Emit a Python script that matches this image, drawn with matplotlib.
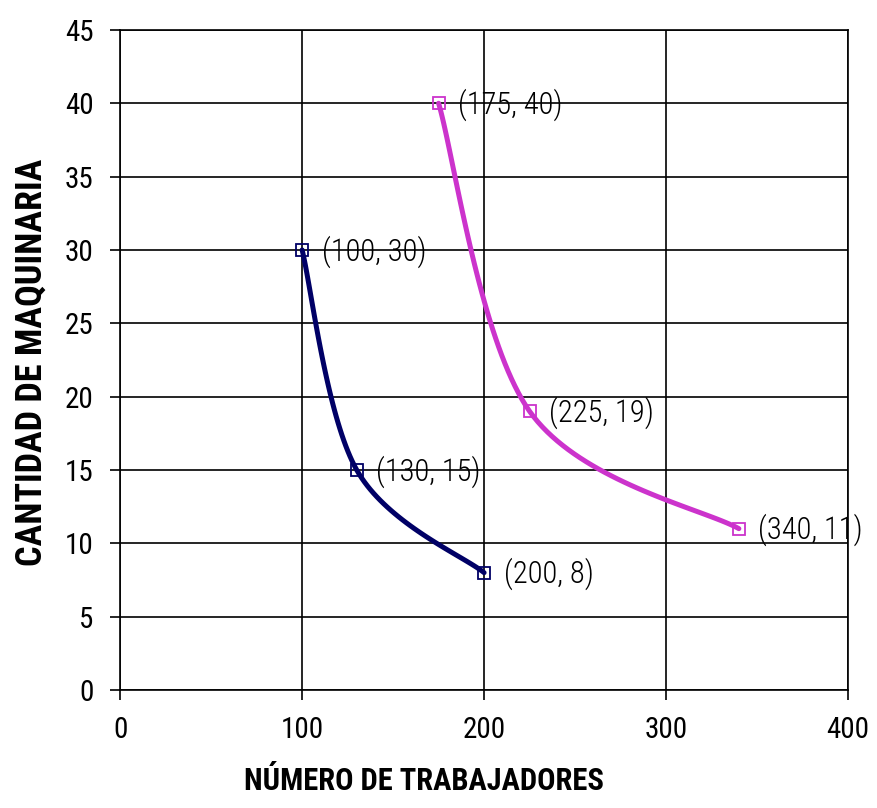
import numpy as np
import matplotlib
matplotlib.use("Agg")
import matplotlib.pyplot as plt

plt.rcParams['font.family'] = ['Liberation Sans Narrow', 'Arial Narrow', 'Roboto Condensed',
                               'DejaVu Sans Condensed', 'Liberation Sans', 'DejaVu Sans']

# data
x_a = [100, 130, 200]
y_a = [30, 15, 8]
x_b = [175, 225, 340]
y_b = [40, 19, 11]
x_ticks = [0, 100, 200, 300, 400]
y_ticks = [0, 5, 10, 15, 20, 25, 30, 35, 40, 45]


def smooth(xs, ys, sx, sy, n=40):
    # excel-like bezier smoothing, done in screen-ish units
    p = np.column_stack([np.array(xs) * sx, np.array(ys) * sy]).astype(float)
    p = np.vstack([p[0], p, p[-1]])
    out = []
    t = np.linspace(0, 1, n)[:, None]
    for i in range(1, len(p) - 2):
        p0, p1, p2, p3 = p[i - 1], p[i], p[i + 1], p[i + 2]
        c1 = p1 + (p2 - p0) / 6
        c2 = p2 - (p3 - p1) / 6
        seg = (1 - t) ** 3 * p1 + 3 * (1 - t) ** 2 * t * c1 + 3 * (1 - t) * t ** 2 * c2 + t ** 3 * p2
        out.append(seg)
    out = np.vstack(out)
    return out[:, 0] / sx, out[:, 1] / sy


fig = plt.figure(figsize=(8.77, 8.08), dpi=100)
ax = fig.add_axes([0.137, 0.146, 0.83, 0.817])

sx, sy = 728 / 400, 660 / 45
for xs, ys, col in [(x_a, y_a, '#000066'), (x_b, y_b, '#CC33CC')]:
    cx, cy = smooth(xs, ys, sx, sy)
    ax.plot(cx, cy, color=col, lw=3.6, solid_capstyle='round', zorder=3)
    ax.plot(xs, ys, ls='none', marker='s', ms=9, mfc='none', mec=col, mew=1.3, zorder=4)
    for xv, yv in zip(xs, ys):
        ax.annotate('(%d, %d)' % (xv, yv), (xv, yv), xytext=(14, -1), textcoords='offset points',
                    va='center', ha='left', fontsize=22, fontweight=300, color='black', zorder=5)

ax.set_xlim(0, 400)
ax.set_ylim(0, 45)
ax.set_xticks(x_ticks)
ax.set_yticks(y_ticks)
ax.grid(True, color='black', lw=1.2)
ax.set_axisbelow(True)
for s in ax.spines.values():
    s.set_linewidth(1.2)
    s.set_color('black')
ax.tick_params(direction='out', length=7, width=1.2, labelsize=21, pad=12)

ax.set_xlabel('NÚMERO DE TRABAJADORES', fontsize=22, fontweight='bold')
ax.xaxis.set_label_coords(0.418, -0.115)
ax.set_ylabel('CANTIDAD DE MAQUINARIA', fontsize=26, fontweight='bold')
ax.yaxis.set_label_coords(-0.097, 0.497)

fig.savefig('out.png', dpi=100)
